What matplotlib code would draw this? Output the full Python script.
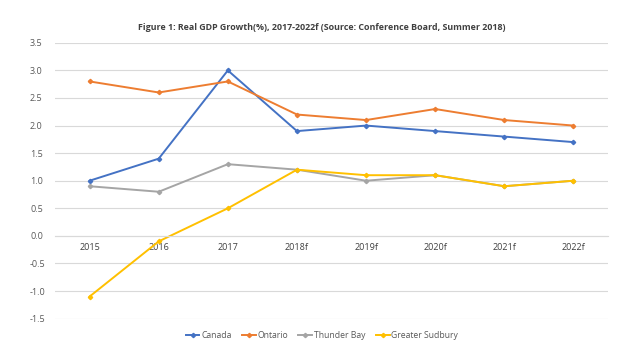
import numpy as np
import matplotlib.pyplot as plt

years = ['2015', '2016', '2017', '2018f', '2019f', '2020f', '2021f', '2022f']
canada = [1.0, 1.4, 3.0, 1.9, 2.0, 1.9, 1.8, 1.7]
ontario = [2.8, 2.6, 2.8, 2.2, 2.1, 2.3, 2.1, 2.0]
thunder_bay = [0.9, 0.8, 1.3, 1.2, 1.0, 1.1, 0.9, 1.0]
sudbury = [-1.1, -0.1, 0.5, 1.2, 1.1, 1.1, 0.9, 1.0]

plt.rcParams['font.family'] = ['Open Sans', 'DejaVu Sans']

fig = plt.figure(figsize=(6.4, 3.6), dpi=100)
ax = fig.add_axes([0.086, 0.115, 0.864, 0.766])

x = np.arange(len(years))
series = [(canada, '#4472C4', 'Canada'),
          (ontario, '#ED7D31', 'Ontario'),
          (thunder_bay, '#A5A5A5', 'Thunder Bay'),
          (sudbury, '#FFC000', 'Greater Sudbury')]
for vals, col, lab in series:
    ax.plot(x, vals, color=col, lw=1.4, marker='D', ms=2.2, label=lab)

ax.set_xlim(-0.5, len(years) - 0.5)
ax.set_ylim(-1.5, 3.5)
ax.set_yticks(np.arange(-1.5, 3.6, 0.5))
ax.set_yticklabels(['%.1f' % v for v in np.arange(-1.5, 3.6, 0.5)])
ax.grid(axis='y', color='#d9d9d9', lw=0.8)
ax.set_axisbelow(True)
for s in ['top', 'right', 'left']:
    ax.spines[s].set_visible(False)
ax.spines['bottom'].set_position(('data', 0))
ax.spines['bottom'].set_color('#d9d9d9')
ax.spines['bottom'].set_linewidth(0.8)
ax.set_xticks(x)
ax.set_xticklabels(years)
ax.tick_params(axis='x', length=0, pad=5, labelsize=6.5, colors='#404040')
ax.tick_params(axis='y', length=0, pad=18, labelsize=6.5, colors='#595959')
for t in ax.get_yticklabels():
    t.set_horizontalalignment('left')

fig.text(0.503, 0.925, 'Figure 1: Real GDP Growth(%), 2017-2022f (Source: Conference Board, Summer 2018)',
         ha='center', va='center', fontsize=6.4, fontweight='bold', color='#404040')

fig.legend(loc='center', bbox_to_anchor=(0.503, 0.069), ncol=4, frameon=False,
           fontsize=6.2, handlelength=1.6, handletextpad=0.2, columnspacing=1.2,
           labelcolor='#595959')

plt.savefig('out.png', dpi=100)
